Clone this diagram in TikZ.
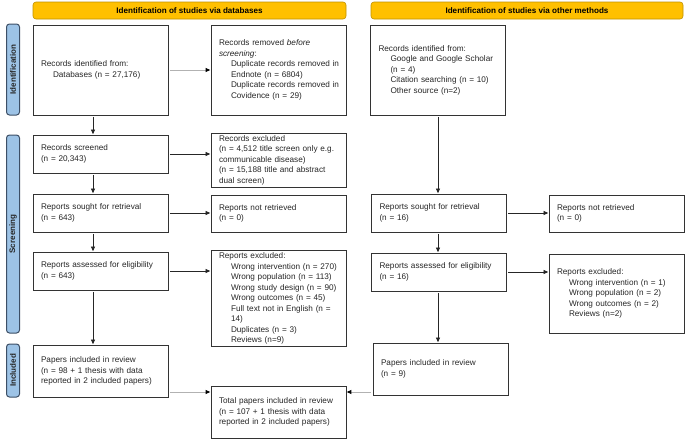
\documentclass[tikz,border=0pt]{standalone}
\usepackage{fontspec}
\setmainfont{Liberation Sans}
\usetikzlibrary{arrows.meta}
\definecolor{hdrfill}{HTML}{FFC000}
\definecolor{hdrdraw}{HTML}{BF9000}
\definecolor{barfill}{HTML}{9DC3E6}
\definecolor{bardraw}{HTML}{3D4F66}
\newcommand\ind[1]{\mbox{\hspace*{12pt}#1}}
\begin{document}
\begin{tikzpicture}[x=1pt,y=-1pt,
  box/.style={draw=black!80, line width=0.7pt, text width=119pt, inner xsep=8pt, inner ysep=2pt,
    align=left, font=\fontsize{8.2}{10.5}\selectfont, text=black!85},
  arr/.style={-{Triangle[length=4.5pt,width=4pt]}, line width=0.6pt, draw=black!85, shorten <=1.5pt, shorten >=0.5pt},
  garr/.style={-{Triangle[length=4.5pt,width=4pt,color=black]}, line width=0.8pt, draw=black!30, shorten <=1.5pt, shorten >=0.5pt},
  hdr/.style={draw=hdrdraw, fill=hdrfill, rounded corners=3pt, line width=0.6pt,
    font=\bfseries\fontsize{8.1}{10}\selectfont, minimum height=17pt, inner sep=0pt},
  bar/.style={draw=bardraw, fill=barfill, rounded corners=3pt, line width=1pt, rotate=90,
    minimum height=13pt, inner sep=0pt, font=\bfseries\fontsize{8}{10}\selectfont, text=black!85}
]
\useasboundingbox (0,0) rectangle (685,439);

% headers
\node[hdr, minimum width=313pt] (hdb) at (189.5,10.5) {Identification of studies via databases};
\node[hdr, minimum width=312pt] (hom) at (527,10.5) {Identification of studies via other methods};

% side bars
\node[bar, minimum width=91pt] (bid) at (13,69.5) {Identification};
\node[bar, minimum width=198pt] (bscr) at (13,234) {Screening};
\node[bar, minimum width=53pt] (binc) at (13,370.5) {Included};

% left column
\node[box, minimum height=90pt] (rid) at (100.5,70) {Records identified from:\\\ind{Databases (n = 27,176)}};
\node[box, minimum height=90pt] (rrem) at (278.5,70) {Records removed \textit{before}\\\textit{screening}:\\\ind{Duplicate records removed in}\\\ind{Endnote (n = 6804)}\\\ind{Duplicate records removed in}\\\ind{Covidence (n = 29)}};
\node[box, minimum height=38pt] (rscr) at (100.5,154) {Records screened\\(n = 20,343)};
\node[box, minimum height=54pt] (rexc) at (278.5,160) {Records excluded\\\mbox{(n = 4,512 title screen only e.g.}\\communicable disease)\\\mbox{(n = 15,188 title and abstract}\\dual screen)};
\node[box, minimum height=38pt] (rsought) at (100.5,213) {Reports sought for retrieval\\(n = 643)};
\node[box, minimum height=37pt] (rnot) at (278.5,213.5) {Reports not retrieved\\(n = 0)};
\node[box, minimum height=38pt] (rassess) at (100.5,271) {\mbox{Reports assessed for eligibility}\\(n = 643)};
\node[box, minimum height=95pt] (rexcl) at (278.5,298.5) {Reports excluded:\\\ind{Wrong intervention (n = 270)}\\\ind{Wrong population (n = 113)}\\\ind{Wrong study design (n = 90)}\\\ind{Wrong outcomes (n = 45)}\\\ind{Full text not in English (n =}\\\ind{14)}\\\ind{Duplicates (n = 3)}\\\ind{Reviews (n=9)}};
\node[box, minimum height=52pt] (pinc) at (100.5,371) {Papers included in review\\\mbox{(n = 98 + 1 thesis with data}\\\mbox{reported in 2 included papers)}};
\node[box, minimum height=52pt] (total) at (278.5,412) {\mbox{Total papers included in review}\\\mbox{(n = 107 + 1 thesis with data}\\\mbox{reported in 2 included papers)}};

% right column
\node[box, minimum height=90pt] (orid) at (438,70) {Records identified from:\\\ind{Google and Google Scholar}\\\ind{(n = 4)}\\\ind{Citation searching (n = 10)}\\\ind{Other source (n=2)}};
\node[box, minimum height=38pt] (osought) at (439,213) {Reports sought for retrieval\\(n = 16)};
\node[box, minimum height=37pt] (onot) at (616.5,213.5) {Reports not retrieved\\(n = 0)};
\node[box, minimum height=38pt] (oassess) at (439,272) {\mbox{Reports assessed for eligibility}\\(n = 16)};
\node[box, minimum height=79pt] (oexcl) at (616.5,293.5) {Reports excluded:\\\ind{Wrong intervention (n = 1)}\\\ind{Wrong population (n = 2)}\\\ind{Wrong outcomes (n = 2)}\\\ind{Reviews (n=2)}};
\node[box, minimum height=52pt] (oinc) at (440.5,369) {Papers included in review\\(n = 9)};

% helper coordinates
\coordinate (colL) at (93,0);
\coordinate (colR) at (438,0);
\coordinate (ty) at (0,392);

% connectors left
\draw[garr] (rid.east) -- (rid.east -| rrem.west);
\draw[arr] (rid.south -| colL) -- (rscr.north -| colL);
\draw[arr] (rscr.east) -- (rscr.east -| rexc.west);
\draw[arr] (rscr.south -| colL) -- (rsought.north -| colL);
\draw[arr] (rsought.east) -- (rsought.east -| rnot.west);
\draw[arr] (rsought.south -| colL) -- (rassess.north -| colL);
\draw[arr] (rassess.east) -- (rassess.east -| rexcl.west);
\draw[arr] (rassess.south -| colL) -- (pinc.north -| colL);
\draw[garr] (pinc.east |- ty) -- (total.west |- ty);

% connectors right
\draw[arr] (orid.south -| colR) -- (osought.north -| colR);
\draw[arr] (osought.east) -- (osought.east -| onot.west);
\draw[arr] (osought.south -| colR) -- (oassess.north -| colR);
\draw[arr] (oassess.east) -- (oassess.east -| oexcl.west);
\draw[arr] (oassess.south -| colR) -- (oinc.north -| colR);
\draw[garr] (oinc.west |- ty) -- (total.east |- ty);
\end{tikzpicture}
\end{document}
